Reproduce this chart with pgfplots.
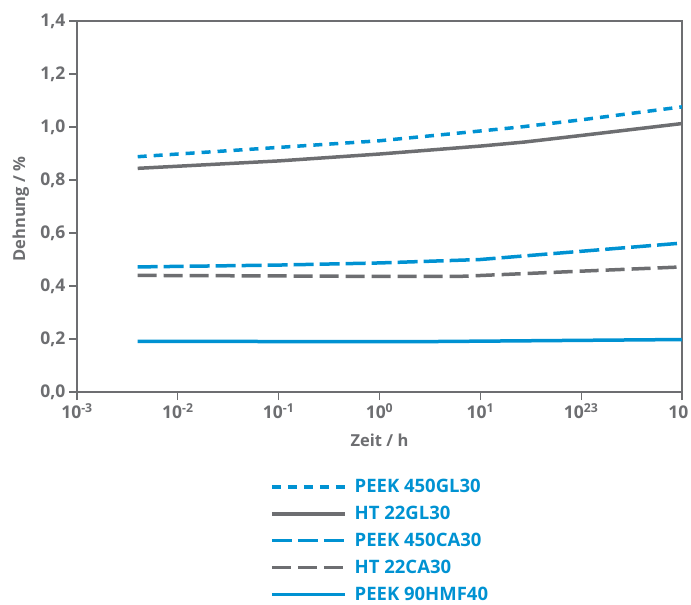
\documentclass[border=0pt]{standalone}
\usepackage{fontspec}
\setmainfont{Open Sans}
\usepackage{pgfplots}
\pgfplotsset{compat=1.18}
\definecolor{fblue}{RGB}{0,146,210}
\definecolor{fgray}{RGB}{109,110,113}
\begin{document}
\begin{tikzpicture}
\begin{axis}[name=ax, scale only axis, width=605pt, height=371pt,
  xmode=log, xmin=0.001, xmax=1000, ymin=0, ymax=1.4,
  xtick={0.001,0.01,0.1,1,10,100,1000},
  xticklabels={10\textsuperscript{-3},10\textsuperscript{-2},10\textsuperscript{-1},10\textsuperscript{0},10\textsuperscript{1},10\textsuperscript{23},10\textsuperscript{\phantom{3}}},
  xminorticks=false,
  ytick={0,0.2,0.4,0.6,0.8,1.0,1.2,1.4},
  /pgf/number format/.cd, fixed, fixed zerofill, precision=1, use comma, assume math mode=true,
  /pgfplots/.cd,
  tick label style={font=\fontsize{17.5}{17.5}\selectfont\bfseries, text=fgray},
  axis line style={draw=fgray, line width=1.2pt},
  tick style={draw=fgray, line width=1.2pt},
  tick align=outside, major tick length=8pt,
  xtick pos=bottom, ytick pos=left,
  xlabel={Zeit / h}, ylabel={Dehnung / \%},
  label style={font=\fontsize{16.5}{16.5}\selectfont\bfseries, text=fgray},
  xlabel style={at={(axis description cs:0.5,-0.129)}, anchor=center},
  ylabel style={at={(axis description cs:-0.093,0.493)}, anchor=center},
  legend style={at={(axis description cs:0.3190,-0.2350)}, anchor=north west, draw=none, fill=none,
    font=\fontsize{18.5}{18.5}\selectfont\bfseries, text=fblue, inner sep=0pt,
    row sep=12pt, column sep=8pt, nodes={inner sep=0pt}},
  legend cell align=left,
  legend image code/.code={\draw[#1] (0pt,0pt) -- (73pt,0pt);},
]
\addplot[fblue, line width=3.5pt, dash pattern=on 9pt off 7pt] coordinates {
 (0.004,0.888) (0.1,0.923) (1,0.948) (10,0.985) (25,1.0) (100,1.027) (1000,1.076)};
\addlegendentry{PEEK 450GL30}
\addplot[fgray, line width=3.5pt] coordinates {
 (0.004,0.844) (0.1,0.872) (1,0.898) (10,0.928) (27,0.943) (100,0.968) (1000,1.013)};
\addlegendentry{HT 22GL30}
\addplot[fblue, line width=3.5pt, dash pattern=on 20pt off 6pt] coordinates {
 (0.004,0.472) (0.1,0.479) (1,0.487) (10,0.500) (100,0.531) (1000,0.562)};
\addlegendentry{PEEK 450CA30}
\addplot[fgray, line width=3.5pt, dash pattern=on 19pt off 7pt] coordinates {
 (0.004,0.440) (0.1,0.438) (1,0.436) (6,0.436) (100,0.456) (1000,0.472)};
\addlegendentry{HT 22CA30}
\addplot[fblue, line width=3.5pt] coordinates {
 (0.004,0.191) (2.5,0.190) (1000,0.198)};
\addlegendentry{PEEK 90HMF40}
\end{axis}
\pgfresetboundingbox
\useasboundingbox ([xshift=-77pt,yshift=21pt]ax.north west) rectangle ([xshift=9pt,yshift=-213pt]ax.south east);
\end{tikzpicture}
\end{document}
